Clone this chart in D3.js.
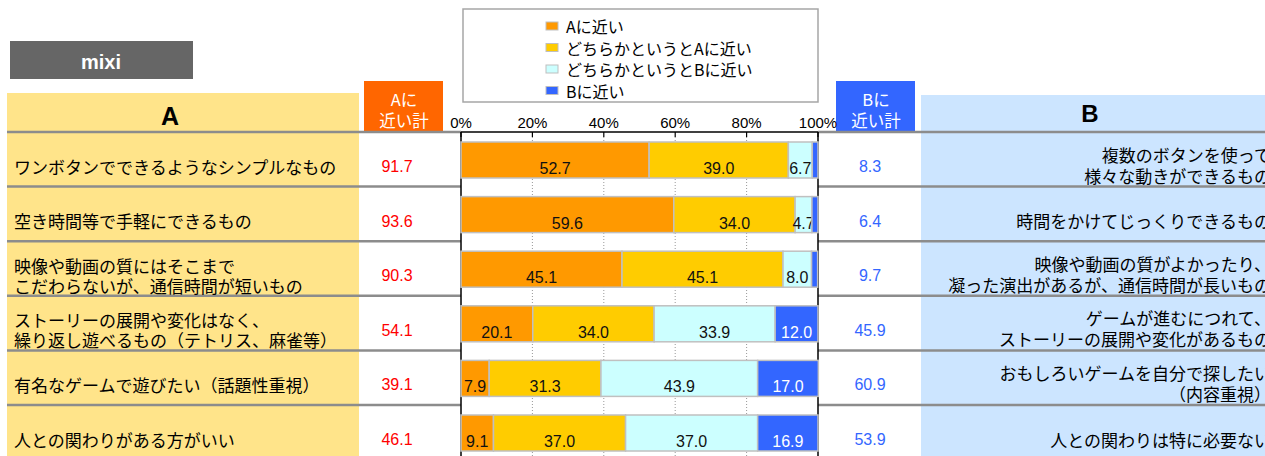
<!DOCTYPE html>
<html>
<head>
<meta charset="utf-8">
<script src="https://cdn.jsdelivr.net/npm/d3@7"></script>
<style>
  body { margin: 0; background: #fff; }
  svg { display: block; }
</style>
</head>
<body>
<div id="chart"></div>
<script>
// Data
var labelsA = [
    ["ワンボタンでできるようなシンプルなもの"],
    ["空き時間等で手軽にできるもの"],
    ["映像や動画の質にはそこまで", "こだわらないが、通信時間が短いもの"],
    ["ストーリーの展開や変化はなく、", "繰り返し遊べるもの（テトリス、麻雀等）"],
    ["有名なゲームで遊びたい（話題性重視）"],
    ["人との関わりがある方がいい"]
];
var labelsB = [
    ["複数のボタンを使って", "様々な動きができるもの"],
    ["時間をかけてじっくりできるもの"],
    ["映像や動画の質がよかったり、", "凝った演出があるが、通信時間が長いもの"],
    ["ゲームが進むにつれて、", "ストーリーの展開や変化があるもの"],
    ["おもしろいゲームを自分で探したい", "（内容重視）"],
    ["人との関わりは特に必要ない"]
];
var seriesNames = ["Aに近い", "どちらかというとAに近い", "どちらかというとBに近い", "Bに近い"];
var nearA = [52.7, 59.6, 45.1, 20.1, 7.9, 9.1];
var leanA = [39.0, 34.0, 45.1, 34.0, 31.3, 37.0];
var leanB = [6.7, 4.7, 8.0, 33.9, 43.9, 37.0];
var nearB = [1.6, 1.7, 1.7, 12.0, 17.0, 16.9];
var totalA = [91.7, 93.6, 90.3, 54.1, 39.1, 46.1];
var totalB = [8.3, 6.4, 9.7, 45.9, 60.9, 53.9];
var ticks = [0, 20, 40, 60, 80, 100];

var colors = ["#FF9900", "#FFCC00", "#CCFFFF", "#3366FF"];
var jp = "'Noto Sans CJK JP', sans-serif";
var num = "'Liberation Sans', Arial, sans-serif";

var width = 1265, height = 456;
var svg = d3.select("#chart").append("svg")
    .attr("width", width)
    .attr("height", height);

// scales
var x = d3.scaleLinear().domain([0, 100]).range([461, 818]);
var rowTop = 132, rowH = 54.6;
var y = d3.scaleBand().domain(d3.range(labelsA.length))
    .range([rowTop, rowTop + rowH * labelsA.length]);

// mixi tag
svg.append("rect").attr("x", 10).attr("y", 41).attr("width", 183).attr("height", 38)
    .attr("fill", "#666");
svg.append("text").attr("x", 101).attr("y", 62).attr("text-anchor", "middle")
    .attr("dominant-baseline", "central")
    .style("font-family", num).style("font-size", "20px").style("font-weight", "bold")
    .attr("fill", "#fff").text("mixi");

// column backgrounds
svg.append("rect").attr("x", 7).attr("y", 93).attr("width", 352).attr("height", height - 93)
    .attr("fill", "#FFE48A");
svg.append("rect").attr("x", 921).attr("y", 95).attr("width", width - 921).attr("height", height - 95)
    .attr("fill", "#CCE5FF");

svg.append("text").attr("x", 170).attr("y", 116).attr("text-anchor", "middle")
    .attr("dominant-baseline", "central")
    .style("font-family", "'Liberation Sans Narrow', 'Liberation Sans', sans-serif")
    .style("font-size", "25px").style("font-weight", "bold").text("A");
svg.append("text").attr("x", 1090).attr("y", 113).attr("text-anchor", "middle")
    .attr("dominant-baseline", "central")
    .style("font-family", num)
    .style("font-size", "24px").style("font-weight", "bold").text("B");

// total header boxes
[{x: 364, c: "#FF6600", t: "Aに"}, {x: 836, c: "#3366FF", t: "Bに"}].forEach(function(b) {
    svg.append("rect").attr("x", b.x).attr("y", 81).attr("width", 79).attr("height", 51)
        .attr("fill", b.c);
    var t = svg.append("text").attr("text-anchor", "middle").attr("fill", "#fff")
        .style("font-family", jp).style("font-size", "16.5px");
    t.append("tspan").attr("x", b.x + 40).attr("y", 106).text(b.t);
    t.append("tspan").attr("x", b.x + 40).attr("y", 127).text("近い計");
});

// row separator lines
var lines = d3.range(labelsA.length).map(function(i) { return y(i); });
svg.selectAll(".sep").data(lines).enter().append("g").each(function(v) {
    var g = d3.select(this);
    g.append("line").attr("x1", 7).attr("x2", x(0)).attr("y1", v).attr("y2", v);
    g.append("line").attr("x1", x(100)).attr("x2", width).attr("y1", v).attr("y2", v);
}).selectAll("line").attr("stroke", "#8c8c8c").attr("stroke-width", 2.5);

// legend
svg.append("rect").attr("x", 463).attr("y", 9).attr("width", 355).attr("height", 93)
    .attr("fill", "#fff").attr("stroke", "#a6a6a6").attr("stroke-width", 1.5);
var leg = svg.selectAll(".leg").data(seriesNames).enter().append("g")
    .attr("transform", function(d, i) { return "translate(546," + (26 + i * 21.5) + ")"; });
leg.append("rect").attr("x", 0).attr("y", -4).attr("width", 12).attr("height", 8)
    .attr("fill", function(d, i) { return colors[i]; })
    .attr("stroke", "#bfbfbf").attr("stroke-width", 1);
leg.append("text").attr("x", 20).attr("y", 0).attr("dominant-baseline", "central")
    .style("font-family", jp).style("font-size", "16px").text(function(d) { return d; });

// axis
svg.selectAll(".tl").data(ticks).enter().append("text")
    .attr("x", function(d) { return x(d); }).attr("y", 128)
    .attr("text-anchor", "middle")
    .style("font-family", num).style("font-size", "15px")
    .text(function(d) { return d + "%"; });
svg.append("line").attr("x1", x(0)).attr("x2", x(100)).attr("y1", 132).attr("y2", 132)
    .attr("stroke", "#000").attr("stroke-width", 1.5);
svg.selectAll(".tk").data(ticks).enter().append("line")
    .attr("x1", function(d) { return x(d); }).attr("x2", function(d) { return x(d); })
    .attr("y1", 132).attr("y2", 137).attr("stroke", "#000").attr("stroke-width", 1.2);
svg.selectAll(".grid").data(ticks.slice(1, -1)).enter().append("line")
    .attr("x1", function(d) { return x(d); }).attr("x2", function(d) { return x(d); })
    .attr("y1", 137).attr("y2", height)
    .attr("stroke", "#999").attr("stroke-dasharray", "1,2");
[0, 100].forEach(function(v) {
    svg.append("line").attr("x1", x(v)).attr("x2", x(v)).attr("y1", 132).attr("y2", height)
        .attr("stroke", "#000").attr("stroke-width", 1.5);
});

// stacked bars
var rows = d3.range(labelsA.length).map(function(i) {
    return {k0: nearA[i], k1: leanA[i], k2: leanB[i], k3: nearB[i]};
});
var stack = d3.stack().keys(["k0", "k1", "k2", "k3"])(rows);
var layer = svg.selectAll(".layer").data(stack).enter().append("g")
    .attr("fill", function(d, i) { return colors[i]; });
layer.selectAll("rect").data(function(d) { return d; }).enter().append("rect")
    .attr("x", function(d) { return x(d[0]); })
    .attr("y", function(d, i) { return y(i) + 10; })
    .attr("width", function(d) { return x(d[1]) - x(d[0]); })
    .attr("height", 36)
    .attr("stroke", "#c0c0c0").attr("stroke-width", 1.5);
layer.each(function(s, si) {
    d3.select(this).selectAll("text").data(s).enter().append("text")
        .filter(function(d) { return d[1] - d[0] >= 3; })
        .attr("x", function(d) { return (x(d[0]) + x(d[1])) / 2; })
        .attr("y", function(d, i) { return y(s.indexOf(d)) + 42; })
        .attr("text-anchor", "middle")
        .attr("fill", si === 3 ? "#fff" : "#111")
        .style("font-family", num).style("font-size", "16px")
        .text(function(d) { return (d[1] - d[0]).toFixed(1); });
});

// totals
svg.selectAll(".ta").data(totalA).enter().append("text")
    .attr("x", 397).attr("y", function(d, i) { return y(i) + 40; })
    .attr("text-anchor", "middle").attr("fill", "#FF0000")
    .style("font-family", num).style("font-size", "16px")
    .text(function(d) { return d.toFixed(1); });
svg.selectAll(".tb").data(totalB).enter().append("text")
    .attr("x", 870).attr("y", function(d, i) { return y(i) + 40; })
    .attr("text-anchor", "middle").attr("fill", "#3366FF")
    .style("font-family", num).style("font-size", "16px")
    .text(function(d) { return d.toFixed(1); });

// row labels
function rowText(data, xPos, anchor, one, two1, two2) {
    svg.selectAll(null).data(data).enter().append("text")
        .attr("text-anchor", anchor)
        .style("font-family", jp).style("font-size", "17px")
        .each(function(d, i) {
            var t = d3.select(this);
            var ys = d.length === 1 ? [y(i) + one] : [y(i) + two1, y(i) + two2];
            d.forEach(function(line, j) {
                t.append("tspan").attr("x", xPos).attr("y", ys[j])
                    .attr("dominant-baseline", "central").text(line);
            });
        });
}
rowText(labelsA, 14, "start", 34, 24, 44);
rowText(labelsB, 1271, "end", 34, 22, 43);
</script>
</body>
</html>
